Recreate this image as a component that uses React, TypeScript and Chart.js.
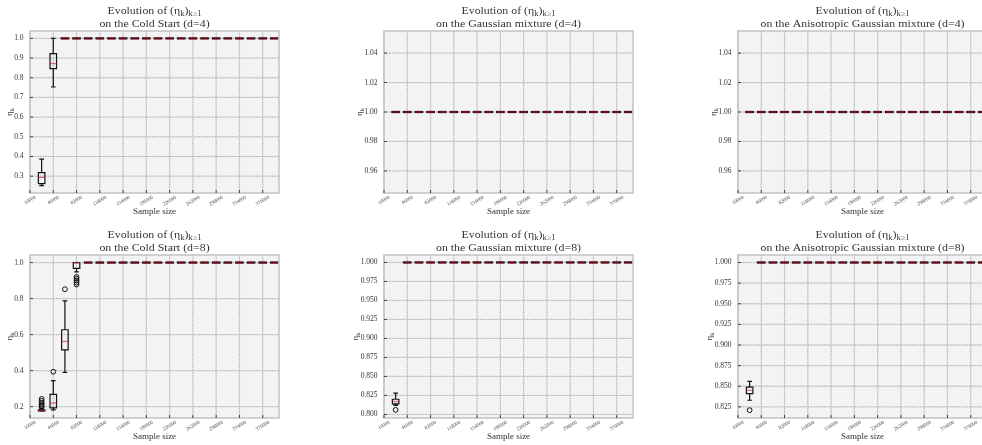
import React, { useEffect, useRef } from "react";
import { Chart, registerables } from "chart.js";

Chart.register(...registerables);

type Box = [number, number, number, number, number]; // whisker low, q1, median, q3, whisker high
type Pt = { x: number; y: number };

const FONT = "'Liberation Serif', 'DejaVu Serif', serif";

// ---- data ----
const sampleSizeLabels = ["10000", "46000", "82000", "118000", "154000", "190000", "226000", "262000", "298000", "334000", "370000"];
const sampleTickPositions = [0, 2, 4, 6, 8, 10, 12, 14, 16, 18, 20];
const boxPositions = [1, 2, 3, 4, 5, 6, 7, 8, 9, 10, 11, 12, 13, 14, 15, 16, 17, 18, 19, 20, 21];

const ONE: Box = [1, 1, 1, 1, 1];

const coldStartD4: Box[] = [
  [0.252, 0.262, 0.294, 0.318, 0.387],
  [0.753, 0.846, 0.872, 0.922, 1.0],
  ONE, ONE, ONE, ONE, ONE, ONE, ONE, ONE, ONE, ONE, ONE, ONE, ONE, ONE, ONE, ONE, ONE, ONE, ONE,
];
const coldStartD4Fliers: Pt[] = [];

const gaussD4: Box[] = [
  ONE, ONE, ONE, ONE, ONE, ONE, ONE, ONE, ONE, ONE, ONE, ONE, ONE, ONE, ONE, ONE, ONE, ONE, ONE, ONE, ONE,
];
const gaussD4Fliers: Pt[] = [];

const anisoD4: Box[] = [
  ONE, ONE, ONE, ONE, ONE, ONE, ONE, ONE, ONE, ONE, ONE, ONE, ONE, ONE, ONE, ONE, ONE, ONE, ONE, ONE, ONE,
];
const anisoD4Fliers: Pt[] = [];

const coldStartD8: Box[] = [
  [0.175, 0.177, 0.178, 0.182, 0.19],
  [0.182, 0.193, 0.22, 0.268, 0.344],
  [0.39, 0.515, 0.562, 0.627, 0.787],
  [0.948, 0.968, 1.0, 1.0, 1.0],
  ONE, ONE, ONE, ONE, ONE, ONE, ONE, ONE, ONE, ONE, ONE, ONE, ONE, ONE, ONE, ONE, ONE,
];
const coldStartD8Fliers: Pt[] = [
  { x: 1, y: 0.198 }, { x: 1, y: 0.205 }, { x: 1, y: 0.213 }, { x: 1, y: 0.222 }, { x: 1, y: 0.232 }, { x: 1, y: 0.243 },
  { x: 2, y: 0.394 },
  { x: 3, y: 0.852 },
  { x: 4, y: 0.878 }, { x: 4, y: 0.889 }, { x: 4, y: 0.9 }, { x: 4, y: 0.91 }, { x: 4, y: 0.92 },
];

const gaussD8: Box[] = [
  [0.812, 0.814, 0.817, 0.82, 0.828],
  ONE, ONE, ONE, ONE, ONE, ONE, ONE, ONE, ONE, ONE, ONE, ONE, ONE, ONE, ONE, ONE, ONE, ONE, ONE, ONE,
];
const gaussD8Fliers: Pt[] = [{ x: 1, y: 0.806 }];

const anisoD8: Box[] = [
  [0.833, 0.841, 0.845, 0.849, 0.856],
  ONE, ONE, ONE, ONE, ONE, ONE, ONE, ONE, ONE, ONE, ONE, ONE, ONE, ONE, ONE, ONE, ONE, ONE, ONE, ONE,
];
const anisoD8Fliers: Pt[] = [{ x: 1, y: 0.821 }];

const ticksD4Cold = [0.3, 0.4, 0.5, 0.6, 0.7, 0.8, 0.9, 1.0];
const ticksD4Flat = [0.96, 0.98, 1.0, 1.02, 1.04];
const ticksD8Cold = [0.2, 0.4, 0.6, 0.8, 1.0];
const ticksD8Gauss = [0.8, 0.825, 0.85, 0.875, 0.9, 0.925, 0.95, 0.975, 1.0];
const ticksD8Aniso = [0.825, 0.85, 0.875, 0.9, 0.925, 0.95, 0.975, 1.0];

const subtitles = [
  "on the Cold Start (d=4)",
  "on the Gaussian mixture (d=4)",
  "on the Anisotropic Gaussian mixture (d=4)",
  "on the Cold Start (d=8)",
  "on the Gaussian mixture (d=8)",
  "on the Anisotropic Gaussian mixture (d=8)",
];

interface PanelDef {
  subtitle: string;
  boxes: Box[];
  fliers: Pt[];
  yMin: number;
  yMax: number;
  yTicks: number[];
  yDecimals: number;
}

const panels: PanelDef[] = [
  { subtitle: subtitles[0], boxes: coldStartD4, fliers: coldStartD4Fliers, yMin: 0.2146, yMax: 1.0374, yTicks: ticksD4Cold, yDecimals: 1 },
  { subtitle: subtitles[1], boxes: gaussD4, fliers: gaussD4Fliers, yMin: 0.945, yMax: 1.055, yTicks: ticksD4Flat, yDecimals: 2 },
  { subtitle: subtitles[2], boxes: anisoD4, fliers: anisoD4Fliers, yMin: 0.945, yMax: 1.055, yTicks: ticksD4Flat, yDecimals: 2 },
  { subtitle: subtitles[3], boxes: coldStartD8, fliers: coldStartD8Fliers, yMin: 0.137, yMax: 1.042, yTicks: ticksD8Cold, yDecimals: 1 },
  { subtitle: subtitles[4], boxes: gaussD8, fliers: gaussD8Fliers, yMin: 0.7953, yMax: 1.0098, yTicks: ticksD8Gauss, yDecimals: 3 },
  { subtitle: subtitles[5], boxes: anisoD8, fliers: anisoD8Fliers, yMin: 0.8115, yMax: 1.0091, yTicks: ticksD8Aniso, yDecimals: 3 },
];

// ---- drawing helpers ----
type Seg = [string, boolean];

function drawSegments(
  ctx: CanvasRenderingContext2D,
  segs: Seg[],
  cx: number,
  cy: number,
  main: number,
  sub: number,
  color: string,
  stretch = 1
) {
  const widths = segs.map(([t, s]) => {
    ctx.font = `${s ? sub : main}px ${FONT}`;
    return ctx.measureText(t).width;
  });
  const total = widths.reduce((a, b) => a + b, 0);
  ctx.save();
  ctx.translate(cx, cy);
  ctx.scale(stretch, 1);
  let x = -total / 2;
  ctx.fillStyle = color;
  ctx.textAlign = "left";
  ctx.textBaseline = "alphabetic";
  const base = main * 0.33;
  segs.forEach(([t, s], i) => {
    ctx.font = `${s ? sub : main}px ${FONT}`;
    ctx.fillText(t, x, base + (s ? main * 0.22 : 0));
    x += widths[i];
  });
  ctx.restore();
}

const panelPlugin = {
  id: "panel",
  beforeDatasetsDraw(chart: any, _args: any, opts: any) {
    const { ctx, chartArea: a } = chart;
    const x = chart.scales.x;
    const y = chart.scales.y;
    ctx.save();
    ctx.fillStyle = "#f3f3f3";
    ctx.fillRect(a.left, a.top, a.right - a.left, a.bottom - a.top);

    const xs: number[] = x.ticks.map((t: any) => x.getPixelForValue(t.value));
    const ys: number[] = y.ticks.map((t: any) => y.getPixelForValue(t.value));

    const gridPass = (color: string, width: number, dash: number[]) => {
      ctx.strokeStyle = color;
      ctx.lineWidth = width;
      ctx.setLineDash(dash);
      ctx.beginPath();
      xs.forEach((px) => {
        ctx.moveTo(px, a.top);
        ctx.lineTo(px, a.bottom);
      });
      ys.forEach((py) => {
        ctx.moveTo(a.left, py);
        ctx.lineTo(a.right, py);
      });
      ctx.stroke();
    };
    gridPass("#dedede", 1.3, []);
    gridPass("#939393", 0.7, [1, 1.6]);
    ctx.setLineDash([]);

    ctx.beginPath();
    ctx.rect(a.left, a.top, a.right - a.left, a.bottom - a.top);
    ctx.clip();

    const boxes: Box[] = opts.boxes;
    const positions: number[] = opts.positions;
    boxes.forEach((b, i) => {
      const pos = positions[i];
      const cx = x.getPixelForValue(pos);
      const hw = x.getPixelForValue(pos + 0.28) - cx;
      const cw = x.getPixelForValue(pos + 0.15) - cx;
      const [lo, q1, med, q3, hi] = b.map((v) => y.getPixelForValue(v));
      const flat = Math.abs(hi - lo) < 0.5;
      ctx.strokeStyle = "#111";
      ctx.lineWidth = flat ? 2.2 : 1.2;
      ctx.lineCap = "square";
      ctx.beginPath();
      if (!flat) {
        // whiskers
        if (Math.abs(hi - q3) > 0.5) {
          ctx.moveTo(cx, q3);
          ctx.lineTo(cx, hi);
        }
        if (Math.abs(q1 - lo) > 0.5) {
          ctx.moveTo(cx, q1);
          ctx.lineTo(cx, lo);
        }
        // caps
        ctx.moveTo(cx - cw, hi);
        ctx.lineTo(cx + cw, hi);
        ctx.moveTo(cx - cw, lo);
        ctx.lineTo(cx + cw, lo);
      }
      // box
      if (Math.abs(q1 - q3) < 0.5) {
        ctx.moveTo(cx - hw, q1);
        ctx.lineTo(cx + hw, q1);
      } else {
        ctx.rect(cx - hw, q3, 2 * hw, q1 - q3);
      }
      ctx.stroke();
      // median
      ctx.strokeStyle = flat ? "rgba(190, 10, 45, 0.55)" : "rgba(212, 20, 60, 0.6)";
      ctx.lineWidth = flat ? 2.2 : 1.3;
      ctx.lineCap = "butt";
      ctx.beginPath();
      ctx.moveTo(cx - hw, med);
      ctx.lineTo(cx + hw, med);
      ctx.stroke();
    });
    ctx.restore();
  },
  afterDraw(chart: any, _args: any, opts: any) {
    const { ctx, chartArea: a } = chart;
    const x = chart.scales.x;
    const y = chart.scales.y;
    ctx.save();
    // frame
    ctx.strokeStyle = "#c6c6c6";
    ctx.lineWidth = 1.6;
    ctx.strokeRect(a.left, a.top, a.right - a.left, a.bottom - a.top);
    // inward tick marks
    ctx.strokeStyle = "#333";
    ctx.lineWidth = 0.9;
    ctx.beginPath();
    x.ticks.forEach((t: any) => {
      const px = x.getPixelForValue(t.value);
      ctx.moveTo(px, a.bottom);
      ctx.lineTo(px, a.bottom - 3);
    });
    y.ticks.forEach((t: any) => {
      const py = y.getPixelForValue(t.value);
      ctx.moveTo(a.left, py);
      ctx.lineTo(a.left + 3, py);
    });
    ctx.stroke();

    // x tick labels, rotated and centred on the tick
    const labels: string[] = opts.xLabels;
    const rot = (30 * Math.PI) / 180;
    ctx.font = `5px ${FONT}`;
    ctx.fillStyle = "#444";
    ctx.textAlign = "center";
    ctx.textBaseline = "middle";
    x.ticks.forEach((t: any, i: number) => {
      const label = labels[i] ?? "";
      const w = ctx.measureText(label).width;
      const h = 4;
      const bh = w * Math.sin(rot) + h * Math.cos(rot);
      const px = x.getPixelForValue(t.value);
      const py = a.bottom + 2.5 + bh / 2;
      ctx.save();
      ctx.translate(px, py);
      ctx.rotate(-rot);
      ctx.fillText(label, 0, 0);
      ctx.restore();
    });

    const midX = (a.left + a.right) / 2;
    const midY = (a.top + a.bottom) / 2;

    // x axis title
    ctx.font = `9px ${FONT}`;
    ctx.fillStyle = "#333";
    ctx.textAlign = "center";
    ctx.textBaseline = "middle";
    ctx.fillText("Sample size", midX, a.bottom + 19);

    // y axis title, placed left of the tick labels
    ctx.font = `7.5px ${FONT}`;
    let maxW = 0;
    y.ticks.forEach((t: any) => {
      maxW = Math.max(maxW, ctx.measureText(String(t.label)).width);
    });
    const labX = a.left - 6.5 - maxW - 5.5;
    ctx.save();
    ctx.translate(labX, midY);
    ctx.rotate(-Math.PI / 2);
    drawSegments(ctx, [["η", false], ["k", true]], 0, 0, 9, 6.5, "#333");
    ctx.restore();

    // title
    drawSegments(
      ctx,
      [["Evolution of (η", false], ["k", true], [")", false], ["k≥1", true]],
      midX,
      a.top - 20.3,
      10.5,
      7.5,
      "#333",
      1.13
    );
    drawSegments(ctx, [[opts.subtitle, false]], midX, a.top - 7.7, 10.5, 7.5, "#333", 1.13);
    ctx.restore();
  },
};

interface PanelProps {
  def: PanelDef;
  left: number;
  top: number;
  width: number;
  height: number;
  areaTop: number;
  areaHeight: number;
}

function PanelChart({ def, left, top, width, height, areaTop, areaHeight }: PanelProps) {
  const ref = useRef<HTMLCanvasElement>(null);
  useEffect(() => {
    const canvas = ref.current;
    if (!canvas) return;
    const axisW = 30;
    const areaW = 249;
    const chart = new Chart(canvas, {
      type: "scatter",
      data: {
        datasets: [
          {
            data: def.fliers,
            pointStyle: "circle",
            radius: 2.4,
            hoverRadius: 2.4,
            borderColor: "#111",
            backgroundColor: "rgba(0,0,0,0)",
            borderWidth: 1,
          },
        ],
      },
      options: {
        responsive: false,
        animation: false,
        devicePixelRatio: 1,
        events: [],
        layout: { padding: { top: areaTop, left: 0, right: width - axisW - areaW, bottom: 0 } },
        plugins: {
          legend: { display: false },
          tooltip: { enabled: false },
          panel: {
            boxes: def.boxes,
            positions: boxPositions,
            xLabels: sampleSizeLabels,
            subtitle: def.subtitle,
          },
        } as any,
        scales: {
          x: {
            type: "linear",
            min: 0,
            max: 21.4,
            bounds: "data",
            ticks: { display: false },
            grid: { display: false, drawTicks: false },
            border: { display: false },
            afterBuildTicks: (s: any) => {
              s.ticks = sampleTickPositions.map((v) => ({ value: v }));
            },
            afterFit: (s: any) => {
              s.height = height - areaTop - areaHeight;
            },
          },
          y: {
            type: "linear",
            min: def.yMin,
            max: def.yMax,
            bounds: "data",
            afterBuildTicks: (s: any) => {
              s.ticks = def.yTicks.map((v) => ({ value: v }));
            },
            ticks: {
              autoSkip: false,
              callback: (v: any) => Number(v).toFixed(def.yDecimals),
              font: { family: FONT, size: 7.5 },
              color: "#333",
              padding: 6.5,
            },
            grid: { display: false, drawTicks: false },
            border: { display: false },
            afterFit: (s: any) => {
              s.width = axisW;
            },
          },
        },
      } as any,
      plugins: [panelPlugin as any],
    });
    return () => chart.destroy();
  }, [def, width, height, areaTop, areaHeight]);
  return (
    <canvas
      ref={ref}
      width={width}
      height={height}
      style={{ position: "absolute", left, top, width, height }}
    />
  );
}

const colLefts = [0, 354, 708];
const rowTops = [0, 224];
const rowHeights = [224, 221];
const rowAreaHeights = [162, 163];

export default function App() {
  return (
    <div
      style={{
        position: "fixed",
        left: 0,
        top: 0,
        width: 982,
        height: 445,
        overflow: "hidden",
        background: "#ffffff",
      }}
    >
      {panels.map((p, i) => {
        const r = Math.floor(i / 3);
        const c = i % 3;
        return (
          <PanelChart
            key={i}
            def={p}
            left={colLefts[c]}
            top={rowTops[r]}
            width={300}
            height={rowHeights[r]}
            areaTop={31}
            areaHeight={rowAreaHeights[r]}
          />
        );
      })}
    </div>
  );
}
